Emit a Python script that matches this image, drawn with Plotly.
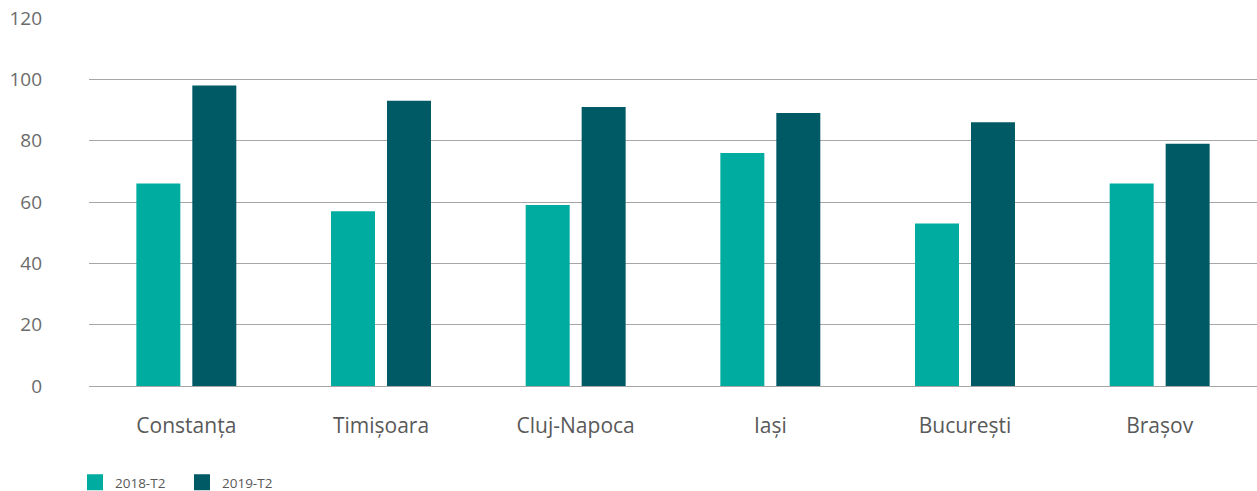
import plotly.graph_objects as go

categories = ["Constanța", "Timișoara", "Cluj-Napoca", "Iași", "București", "Brașov"]
series_2018 = [66, 57, 59, 76, 53, 66]
series_2019 = [98, 93, 91, 89, 86, 79]
series_names = ["2018-T2", "2019-T2"]
colors = ["#00ab9f", "#005a65"]
y_ticks = [0, 20, 40, 60, 80, 100, 120]

FONT = "Open Sans, sans-serif"

fig = go.Figure()
for name, vals, col in zip(series_names, [series_2018, series_2019], colors):
    fig.add_trace(go.Bar(x=categories, y=vals, name=name, marker_color=col,
                         marker_line_width=0, showlegend=False))
    # legend proxy with larger square swatch
    fig.add_trace(go.Scatter(x=[None], y=[None], mode="markers", name=name,
                             marker=dict(symbol="square", size=18, color=col), showlegend=True))

fig.update_layout(
    width=1257, height=491,
    margin=dict(l=89, r=0, t=18, b=105, autoexpand=False),
    paper_bgcolor="white", plot_bgcolor="white",
    barmode="group", bargap=0.425, bargroupgap=0.214,
    font=dict(family=FONT, color="#595959"),
    showlegend=True,
    legend=dict(orientation="h", x=-0.012, xanchor="left", y=-0.22, yanchor="top",
                font=dict(size=13.5, color="#595959"), itemwidth=30, traceorder="normal",
                itemsizing="trace", entrywidth=62, entrywidthmode="pixels"),
)
fig.update_yaxes(range=[0, 120], tickvals=y_ticks, showgrid=True, gridcolor="#a6a6a6", gridwidth=1,
                 zeroline=True, zerolinecolor="#a6a6a6", zerolinewidth=1,
                 tickfont=dict(size=19, color="#6b6b6b"), ticklabelstandoff=46, showline=False)
fig.update_xaxes(showline=False, tickfont=dict(size=21, color="#595959"), ticklabelstandoff=25)

fig.write_html("out.html")
